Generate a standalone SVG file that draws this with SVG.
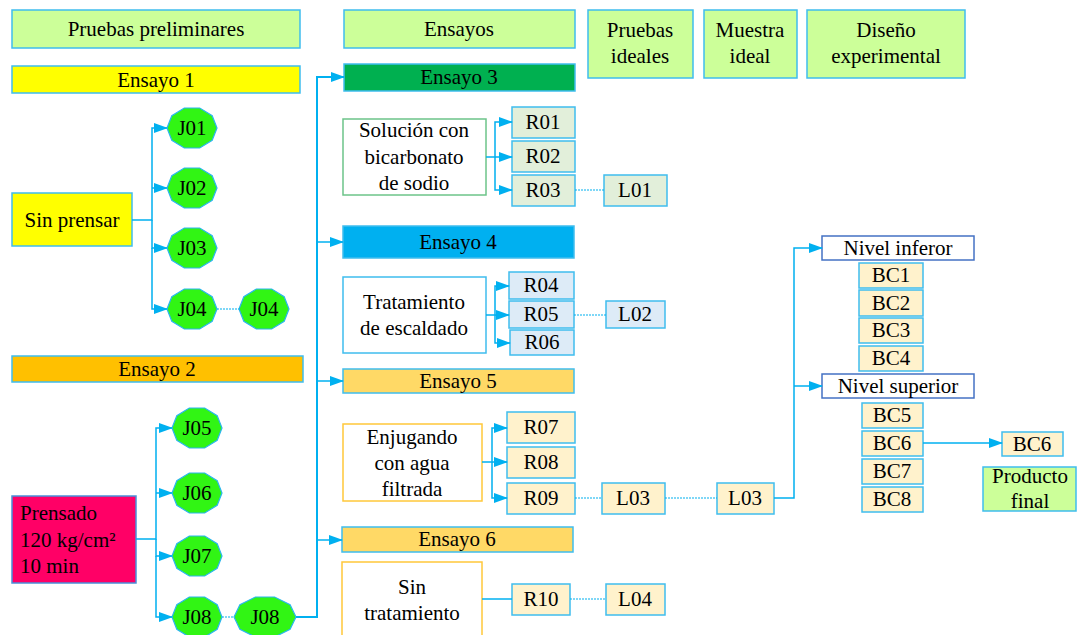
<svg xmlns="http://www.w3.org/2000/svg" xmlns:xlink="http://www.w3.org/1999/xlink" width="1077" height="635" viewBox="0 0 1077 635">
  <style>
    text { font-family: "Times New Roman", Tinos, "Liberation Serif", "Noto Serif", FreeSerif, "DejaVu Serif", serif; font-size: 21px; fill: #000; text-anchor: middle; }
    .box { stroke: #3fbdee; stroke-width: 1.5; }
    .head { fill: #ccff99; }
    .jn { fill: #31f514; stroke: #2ab6ee; stroke-width: 1.2; }
    .rg { fill: #e2efda; }
    .rb { fill: #ddebf7; }
    .ry { fill: #fff2cc; }
    .proc { fill: #fff; stroke-width: 1.5; }
    .lvl { fill: #fff; stroke: #4472c4; stroke-width: 1.5; }
    .link { fill: none; stroke: #00b0f0; stroke-width: 1.5; }
    .trunk { fill: none; stroke: #00b0f0; stroke-width: 2; }
    .dot { fill: none; stroke: #00b0f0; stroke-width: 1.2; stroke-dasharray: 2 1; }
  </style>
  <defs>
    <marker id="arr" markerUnits="userSpaceOnUse" markerWidth="14" markerHeight="12" refX="13" refY="6" orient="auto">
      <path d="M0,1 L14,6 L0,11 Z" fill="#00b0f0"/>
    </marker>
    <polygon id="dec" points="25,0 20.2,12.3 7.7,20 -7.7,20 -20.2,12.3 -25,0 -20.2,-12.3 -7.7,-20 7.7,-20 20.2,-12.3"/>
  </defs>

  <!-- column headers -->
  <g id="h-preliminares"><rect class="box head" x="12" y="10" width="288" height="38"/><text x="156" y="36">Pruebas preliminares</text></g>
  <g id="h-ensayos"><rect class="box head" x="344" y="10" width="231" height="38"/><text x="459" y="36">Ensayos</text></g>
  <g id="h-ideales"><rect class="box head" x="588" y="10" width="105" height="68"/><text x="640" y="37">Pruebas</text><text x="640" y="63">ideales</text></g>
  <g id="h-muestra"><rect class="box head" x="704" y="10" width="93" height="68"/><text x="750" y="37">Muestra</text><text x="750" y="63">ideal</text></g>
  <g id="h-diseno"><rect class="box head" x="807" y="10" width="158" height="68"/><text x="886" y="37">Diseño</text><text x="886" y="63">experimental</text></g>

  <!-- preliminary trials -->
  <g id="ensayo1"><rect class="box" fill="#ffff00" x="12" y="66" width="288" height="27"/><text x="156" y="87">Ensayo 1</text></g>
  <g id="sin-prensar"><rect class="box" fill="#ffff00" x="12" y="193" width="120" height="53"/><text x="72" y="227">Sin prensar</text></g>
  <g id="J01"><use xlink:href="#dec" class="jn" x="192" y="128"/><text x="192" y="135">J01</text></g>
  <g id="J02"><use xlink:href="#dec" class="jn" x="192" y="188"/><text x="192" y="195">J02</text></g>
  <g id="J03"><use xlink:href="#dec" class="jn" x="192" y="248"/><text x="192" y="255">J03</text></g>
  <g id="J04"><use xlink:href="#dec" class="jn" x="192" y="309"/><text x="192" y="316">J04</text></g>
  <g id="J04b"><use xlink:href="#dec" class="jn" x="264" y="309"/><text x="264" y="316">J04</text></g>

  <g id="ensayo2"><rect class="box" fill="#ffc000" x="12" y="356" width="291" height="26"/><text x="157" y="376">Ensayo 2</text></g>
  <g id="prensado"><rect fill="#ff0066" stroke="#4a90d9" stroke-width="1.5" x="12" y="496" width="124" height="87"/>
    <text x="20" y="520" style="text-anchor:start">Prensado</text>
    <text x="20" y="547" style="text-anchor:start">120 kg/cm²</text>
    <text x="20" y="573" style="text-anchor:start">10 min</text></g>
  <g id="J05"><use xlink:href="#dec" class="jn" x="197" y="428"/><text x="197" y="435">J05</text></g>
  <g id="J06"><use xlink:href="#dec" class="jn" x="197" y="493"/><text x="197" y="500">J06</text></g>
  <g id="J07"><use xlink:href="#dec" class="jn" x="197" y="556"/><text x="197" y="563">J07</text></g>
  <g id="J08"><use xlink:href="#dec" class="jn" x="197" y="617"/><text x="197" y="624">J08</text></g>
  <g id="J08b"><polygon class="jn" points="296,617 290.1,629.3 274.6,637 255.4,637 239.9,629.3 234,617 239.9,604.7 255.4,597 274.6,597 290.1,604.7"/><text x="265" y="624">J08</text></g>

  <!-- trials 3 to 6 -->
  <g id="ensayo3"><rect class="box" fill="#00b050" x="344" y="64" width="231" height="27"/><text x="459" y="84">Ensayo 3</text></g>
  <g id="solucion"><rect class="proc" stroke="#6cc489" x="343" y="119" width="143" height="76"/>
    <text x="414" y="137">Solución con</text><text x="414" y="164">bicarbonato</text><text x="414" y="190">de sodio</text></g>
  <g id="R01"><rect class="box rg" x="512" y="107" width="63" height="31"/><text x="543" y="129">R01</text></g>
  <g id="R02"><rect class="box rg" x="512" y="141" width="63" height="31"/><text x="543" y="163">R02</text></g>
  <g id="R03"><rect class="box rg" x="512" y="175" width="63" height="31"/><text x="543" y="197">R03</text></g>
  <g id="L01"><rect class="box rg" x="604" y="175" width="63" height="31"/><text x="635" y="197">L01</text></g>

  <g id="ensayo4"><rect class="box" fill="#00b0f0" x="343" y="226" width="231" height="32"/><text x="458" y="249">Ensayo 4</text></g>
  <g id="escaldado"><rect class="proc" stroke="#3fbdee" x="343" y="277" width="143" height="76"/>
    <text x="414" y="309">Tratamiento</text><text x="414" y="335">de escaldado</text></g>
  <g id="R04"><rect class="box rb" x="509" y="272" width="65" height="27"/><text x="541" y="292">R04</text></g>
  <g id="R05"><rect class="box rb" x="509" y="301" width="65" height="27"/><text x="541" y="321">R05</text></g>
  <g id="R06"><rect class="box rb" x="510" y="330" width="64" height="25"/><text x="542" y="349">R06</text></g>
  <g id="L02"><rect class="box rb" x="606" y="301" width="59" height="27"/><text x="635" y="321">L02</text></g>

  <g id="ensayo5"><rect class="box" fill="#ffd966" x="343" y="369" width="231" height="24"/><text x="458" y="388">Ensayo 5</text></g>
  <g id="enjugando"><rect class="proc" stroke="#ffc83a" x="343" y="424" width="139" height="77"/>
    <text x="412" y="444">Enjugando</text><text x="412" y="470">con agua</text><text x="412" y="496">filtrada</text></g>
  <g id="R07"><rect class="box ry" x="507" y="412" width="68" height="31"/><text x="541" y="434">R07</text></g>
  <g id="R08"><rect class="box ry" x="507" y="447" width="68" height="31"/><text x="541" y="469">R08</text></g>
  <g id="R09"><rect class="box ry" x="507" y="483" width="68" height="31"/><text x="541" y="505">R09</text></g>
  <g id="L03"><rect class="box ry" x="602" y="483" width="63" height="31"/><text x="633" y="505">L03</text></g>

  <g id="ensayo6"><rect class="box" fill="#ffd966" x="342" y="527" width="231" height="25"/><text x="457" y="546">Ensayo 6</text></g>
  <g id="sin-tratamiento"><rect class="proc" stroke="#ffc83a" x="342" y="562" width="140" height="80"/>
    <text x="412" y="594">Sin</text><text x="412" y="620">tratamiento</text></g>
  <g id="R10"><rect class="box ry" x="512" y="584" width="58" height="31"/><text x="541" y="606">R10</text></g>
  <g id="L04"><rect class="box ry" x="606" y="584" width="59" height="31"/><text x="635" y="606">L04</text></g>

  <!-- ideal sample and experimental design -->
  <g id="L03b"><rect class="box ry" x="717" y="483" width="57" height="31"/><text x="745" y="505">L03</text></g>
  <g id="nivel-inferior"><rect class="lvl" x="822" y="236" width="152" height="24"/><text x="898" y="255">Nivel inferor</text></g>
  <g id="BC1"><rect class="box ry" x="859" y="263" width="64" height="25"/><text x="891" y="282">BC1</text></g>
  <g id="BC2"><rect class="box ry" x="859" y="290" width="64" height="26"/><text x="891" y="310">BC2</text></g>
  <g id="BC3"><rect class="box ry" x="859" y="318" width="64" height="25"/><text x="891" y="337">BC3</text></g>
  <g id="BC4"><rect class="box ry" x="859" y="346" width="64" height="25"/><text x="891" y="365">BC4</text></g>
  <g id="nivel-superior"><rect class="lvl" x="822" y="374" width="152" height="24"/><text x="898" y="393">Nivel superior</text></g>
  <g id="BC5"><rect class="box ry" x="862" y="403" width="61" height="25"/><text x="892" y="422">BC5</text></g>
  <g id="BC6"><rect class="box ry" x="862" y="431" width="61" height="25"/><text x="892" y="450">BC6</text></g>
  <g id="BC7"><rect class="box ry" x="862" y="459" width="61" height="25"/><text x="892" y="478">BC7</text></g>
  <g id="BC8"><rect class="box ry" x="862" y="487" width="61" height="25"/><text x="892" y="506">BC8</text></g>
  <g id="BC6-final"><rect class="box ry" x="1002" y="432" width="61" height="24"/><text x="1032" y="451">BC6</text></g>
  <g id="producto-final"><rect class="box head" x="983" y="467" width="93" height="44"/><text x="1030" y="483">Producto</text><text x="1030" y="508">final</text></g>

  <!-- connectors -->
  <g id="connectors">
    <path class="link" marker-end="url(#arr)" d="M132,220 H152 V128 H167"/>
    <path class="link" marker-end="url(#arr)" d="M152,188 H167"/>
    <path class="link" marker-end="url(#arr)" d="M152,220 V248 H167"/>
    <path class="link" marker-end="url(#arr)" d="M152,248 V309 H167"/>
    <path class="dot" d="M217,309 H240"/>

    <path class="link" marker-end="url(#arr)" d="M136,539 H156 V428 H172"/>
    <path class="link" marker-end="url(#arr)" d="M156,493 H172"/>
    <path class="link" marker-end="url(#arr)" d="M156,539 V556 H172"/>
    <path class="link" marker-end="url(#arr)" d="M156,556 V617 H172"/>
    <path class="dot" d="M222,617 H234"/>

    <path class="trunk" marker-end="url(#arr)" d="M296,617 H317 V77 H344"/>
    <path class="link" marker-end="url(#arr)" d="M317,242 H343"/>
    <path class="link" marker-end="url(#arr)" d="M317,381 H343"/>
    <path class="link" marker-end="url(#arr)" d="M317,540 H342"/>

    <path class="link" marker-end="url(#arr)" d="M486,157 H495 V122 H512"/>
    <path class="link" marker-end="url(#arr)" d="M495,157 H512"/>
    <path class="link" marker-end="url(#arr)" d="M495,157 V190 H512"/>
    <path class="dot" d="M575,190 H604"/>

    <path class="link" marker-end="url(#arr)" d="M486,315 H495 V286 H509"/>
    <path class="link" marker-end="url(#arr)" d="M495,315 H509"/>
    <path class="link" marker-end="url(#arr)" d="M495,315 V343 H510"/>
    <path class="dot" d="M574,315 H606"/>

    <path class="link" marker-end="url(#arr)" d="M482,462 H492 V428 H507"/>
    <path class="link" marker-end="url(#arr)" d="M492,462 H507"/>
    <path class="link" marker-end="url(#arr)" d="M492,462 V498 H507"/>
    <path class="dot" d="M575,498 H602"/>
    <path class="dot" d="M665,498 H717"/>

    <path class="link" d="M482,599 H512"/>
    <path class="dot" d="M570,599 H606"/>

    <path class="link" marker-end="url(#arr)" d="M774,498 H794 V248 H822"/>
    <path class="link" marker-end="url(#arr)" d="M794,386 H822"/>
    <path class="link" marker-end="url(#arr)" d="M923,443 H1002"/>
  </g>
</svg>
